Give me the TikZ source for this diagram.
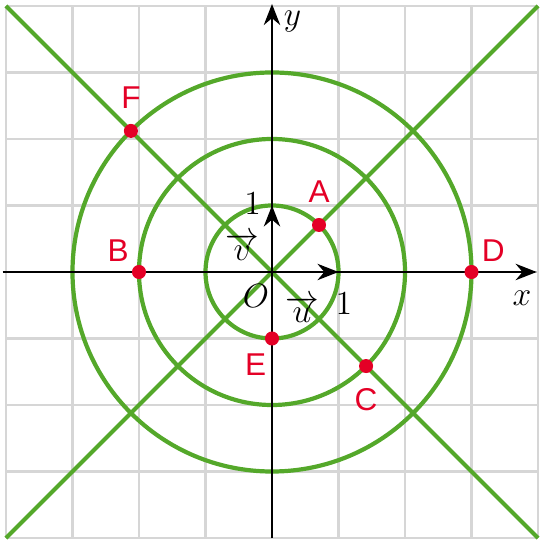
\documentclass[tikz,border=0pt]{standalone}
\usepackage{amsmath,amssymb}
\usepackage{fontspec}
\newfontfamily\lblfont{Liberation Sans}
\usetikzlibrary{arrows.meta,positioning}
\definecolor{cgreen}{RGB}{84,168,42}
\definecolor{cred}{RGB}{228,0,38}
\definecolor{cgrid}{RGB}{214,214,214}

\begin{document}
\begin{tikzpicture}[>={Stealth[length=9pt,width=7pt]},
  gridline/.style={cgrid,line width=0.9pt},
  curve/.style={cgreen,line width=1.8pt},
  axis/.style={->,line width=1pt},
  dot/.style={circle,fill=cred,inner sep=0pt,minimum size=6pt},
  lbl/.style={text=cred,font=\lblfont\fontsize{13.5}{15}\selectfont,inner sep=1pt},
  mlbl/.style={font=\fontsize{14}{16}\selectfont,inner sep=0pt}]
  \useasboundingbox (-4.09,-4.09) rectangle (4.015,4.09);
  \draw[gridline] (-4,-4) grid (4,4);
  % circles and the two diagonals
  \coordinate (O) at (0,0);
  \draw[curve] (O) circle (1) (O) circle (2) (O) circle (3);
  \coordinate (SW) at (-4,-4); \coordinate (NE) at (4,4);
  \coordinate (NW) at (-4,4);  \coordinate (SE) at (4,-4);
  \draw[curve] (SW) -- (NE);
  \draw[curve] (NW) -- (SE);
  % axes
  \coordinate (xl) at (-4.05,0); \coordinate (xr) at (3.98,0);
  \coordinate (yb) at (0,-4);    \coordinate (yt) at (0,4.03);
  \draw[axis] (xl) -- (xr);
  \draw[axis] (yb) -- (yt);
  \coordinate (U) at (1,0); \coordinate (V) at (0,1);
  \draw[axis] (O) -- (U);
  \draw[axis] (O) -- (V);
  \node[mlbl] (xlab) at (3.76,-0.40) {$x$};
  \node[mlbl] (ylab) at (0.31,3.77) {$y$};
  \node[mlbl] (olab) at (-0.24,-0.36) {$O$};
  \node[mlbl] (ulab) at (0.45,-0.56) {$\overrightarrow{u}$};
  \node[mlbl] (vlab) at (-0.45,0.38) {$\overrightarrow{v}$};
  \node[mlbl] (uone) at (1.08,-0.47) {$1$};
  \node[mlbl] (vone) at (-0.29,1.03) {$1$};
  % points
  \node[dot] (A) at (45:1) {};
  \node[dot] (B) at (-2,0) {};
  \node[dot] (C) at (-45:2) {};
  \node[dot] (D) at (3,0) {};
  \node[dot] (E) at (0,-1) {};
  \node[dot] (F) at (135:3) {};
  \node[lbl,above=5pt of A] (Alab) {A};
  \node[lbl,above left=1pt and 1pt of B] (Blab) {B};
  \node[lbl,below=5pt of C] (Clab) {C};
  \node[lbl,above right=1pt and 1pt of D] (Dlab) {D};
  \node[lbl,below left=3pt and -1pt of E] (Elab) {E};
  \node[lbl,above=5pt of F] (Flab) {F};
\end{tikzpicture}
\end{document}
